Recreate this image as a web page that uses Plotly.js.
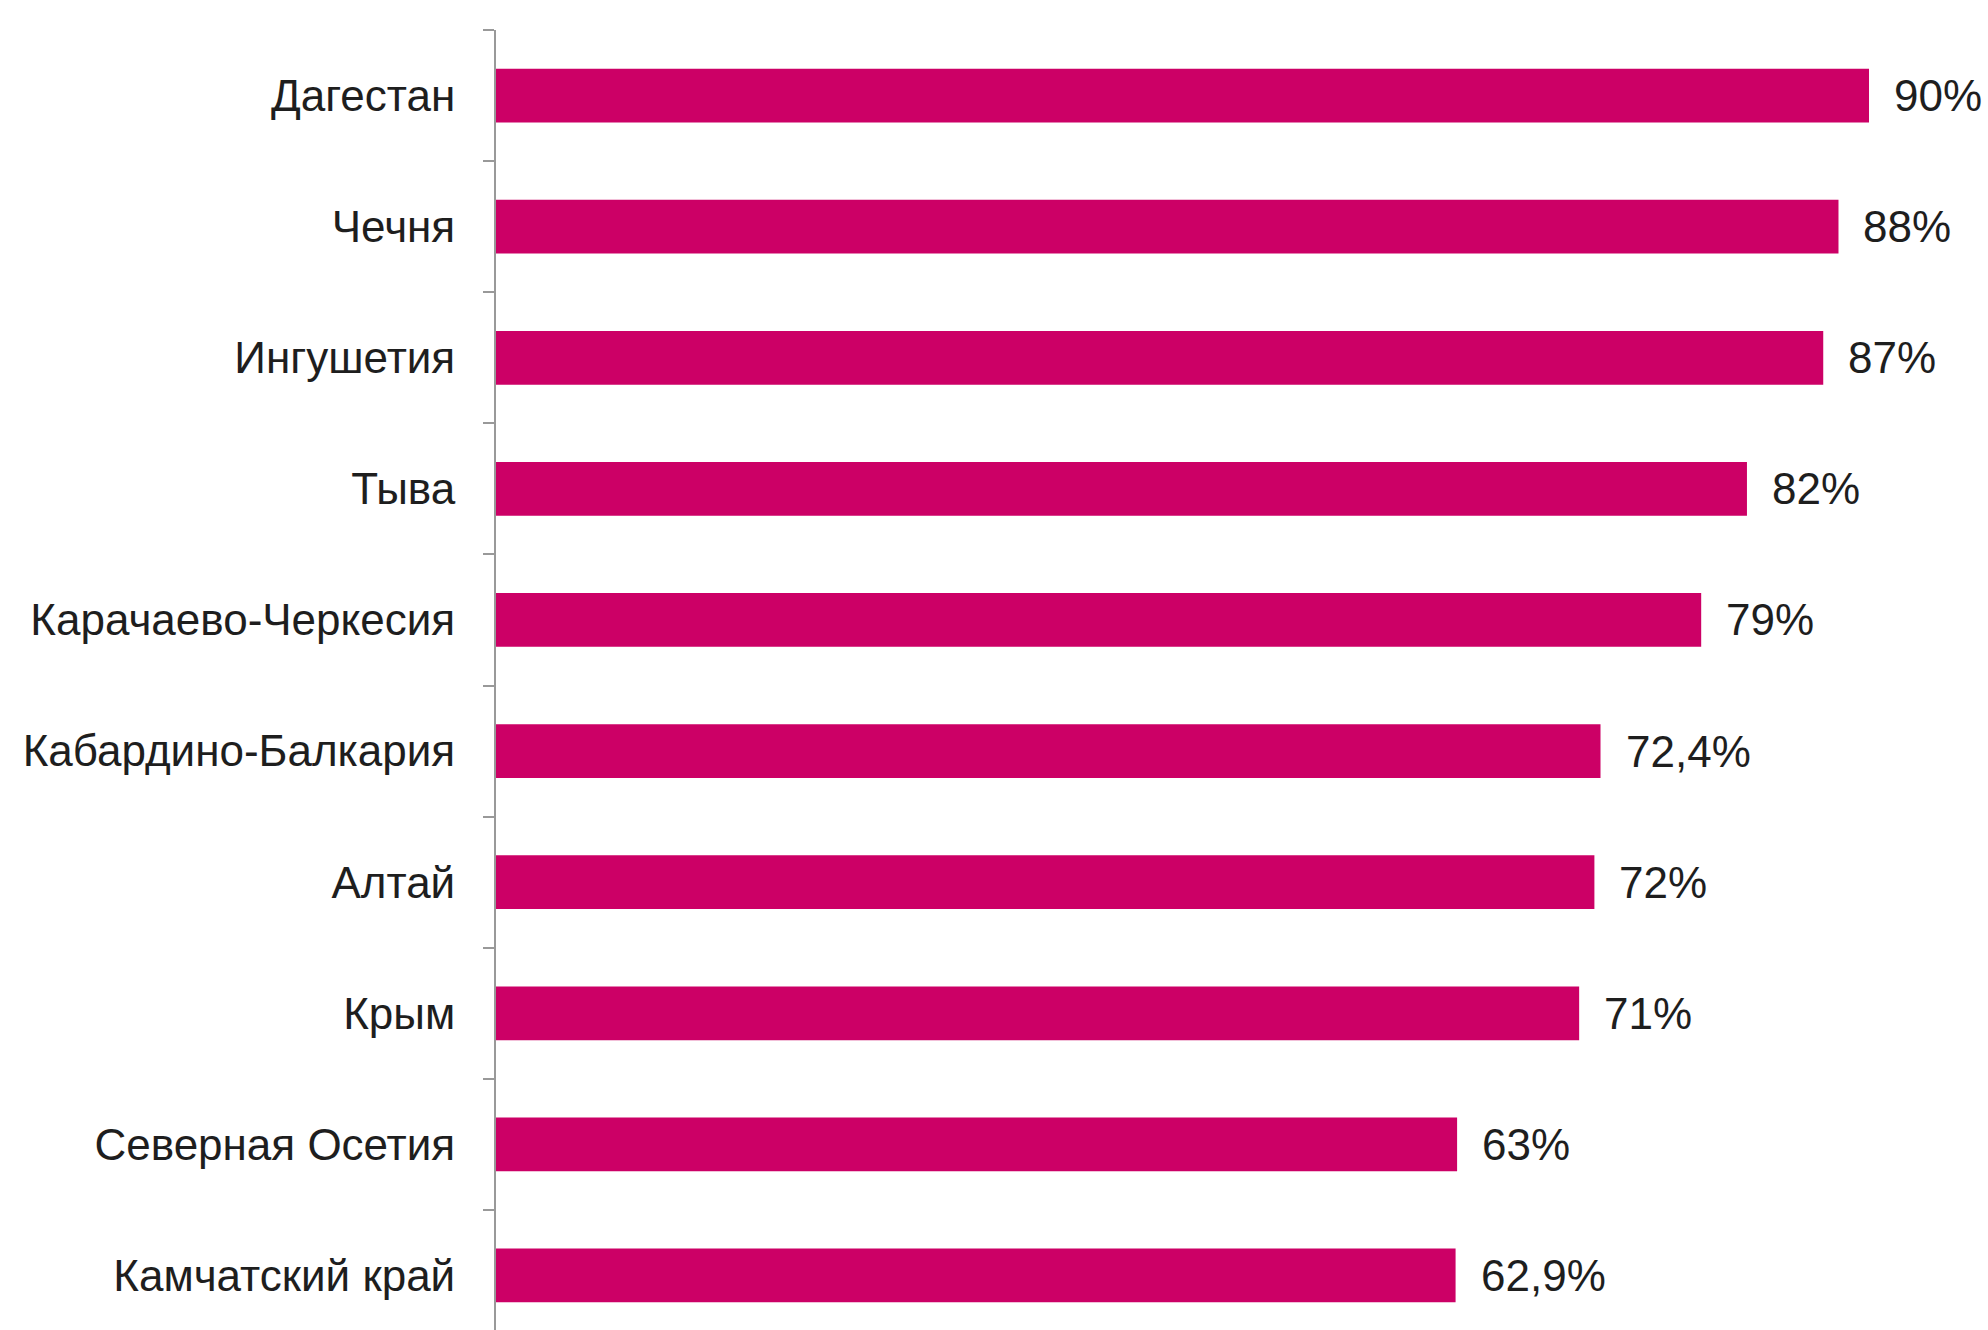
<!DOCTYPE html>
<html>
<head>
<meta charset="utf-8">
<script src="https://cdn.plot.ly/plotly-3.0.1.min.js"></script>
<style>html,body{margin:0;padding:0;background:#fff;}#chart{width:1988px;height:1330px;}</style>
</head>
<body>
<div id="chart"></div>
<script>
const regions = ["Дагестан","Чечня","Ингушетия","Тыва","Карачаево-Черкесия","Кабардино-Балкария","Алтай","Крым","Северная Осетия","Камчатский край"];
const values = [90, 88, 87, 82, 79, 72.4, 72, 71, 63, 62.9];
const valueLabels = ["90%","88%","87%","82%","79%","72,4%","72%","71%","63%","62,9%"];

const FONT = '"Liberation Sans", Arial, sans-serif';

const trace = {
  type: 'bar',
  orientation: 'h',
  x: values,
  y: regions,
  width: 0.41,
  marker: {color: '#CC0066', line: {width: 0}},
  hoverinfo: 'skip'
};

const annotations = regions.map((r, i) => ({
  x: values[i], y: r, xref: 'x', yref: 'y',
  text: valueLabels[i], showarrow: false,
  xanchor: 'left', yanchor: 'middle', xshift: 23,
  font: {family: FONT, size: 44, color: '#1e1e1e'}
}));

const layout = {
  width: 1988, height: 1330,
  margin: {l: 496, r: 0, t: 30, b: 0, pad: 0},
  paper_bgcolor: '#ffffff', plot_bgcolor: '#ffffff',
  showlegend: false,
  xaxis: {range: [0, 97.8], visible: false, showgrid: false, zeroline: false, fixedrange: true},
  yaxis: {
    type: 'category', range: [9.416, -0.5],
    showline: true, linecolor: '#999999', linewidth: 2,
    ticks: 'outside', tickson: 'boundaries', ticklen: 11, tickcolor: '#999999', tickwidth: 2,
    ticklabelstandoff: 30,
    showgrid: false, zeroline: false,
    tickfont: {family: FONT, size: 44, color: '#1e1e1e'}
  },
  annotations: annotations
};

Plotly.newPlot('chart', [trace], layout, {displayModeBar: false, staticPlot: true});
</script>
</body>
</html>
